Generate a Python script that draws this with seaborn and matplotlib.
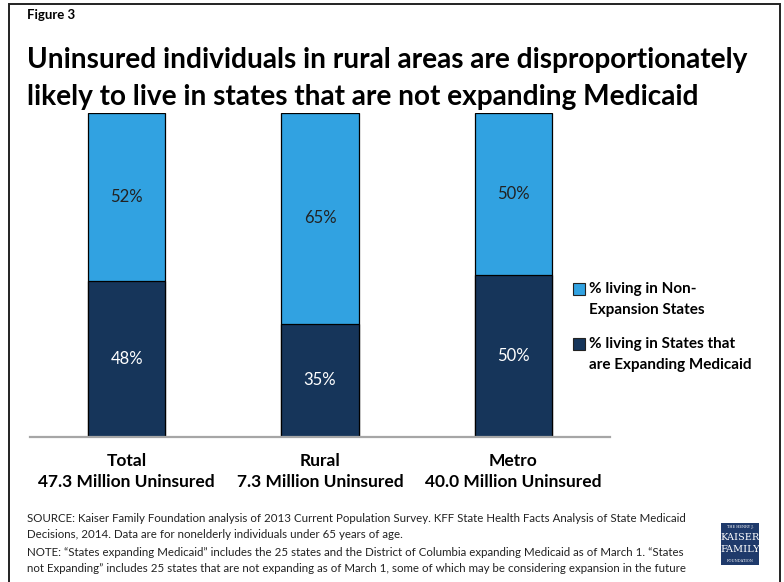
import matplotlib
matplotlib.use("Agg")
import matplotlib.pyplot as plt
import seaborn as sns
import pandas as pd
from matplotlib.patches import Rectangle

sns.set_theme(style="white")
plt.rcParams['font.family'] = ['Lato', 'DejaVu Sans']

# Data
categories = ["Total", "Rural", "Metro"]
totals = ["47.3 Million Uninsured", "7.3 Million Uninsured", "40.0 Million Uninsured"]
expanding = [48, 35, 50]
non_expanding = [52, 65, 50]
series_names = ["% living in Non-\nExpansion States", "% living in States that\nare Expanding Medicaid"]

light_blue = "#31A2E1"
navy = "#16355A"

df = pd.DataFrame({"category": categories, "expanding": expanding,
                   "non_expanding": non_expanding})
df["stack_top"] = df["expanding"] + df["non_expanding"]

fig = plt.figure(figsize=(7.84, 5.82), dpi=100)
W, H = 784, 582

# Outer frame
fig.patches.append(Rectangle((9 / W, -0.01), 771 / W, 1 - 4 / H + 0.01,
                             transform=fig.transFigure, fill=False,
                             edgecolor="#222222", linewidth=1.4))

ax = fig.add_axes([30 / W, (H - 437) / H, 580 / W, 324 / H])

# Stacked bars: full stack in light blue, expanding share drawn over it
sns.barplot(data=df, x="category", y="stack_top", color=light_blue, width=0.4,
            edgecolor="black", linewidth=0.9, saturation=1, ax=ax)
sns.barplot(data=df, x="category", y="expanding", color=navy, width=0.4,
            edgecolor="black", linewidth=0.9, saturation=1, ax=ax)

ax.set_xlim(-0.5, 2.5)
ax.set_ylim(0, 100)
ax.set_xlabel("")
ax.set_ylabel("")
ax.set_yticks([])
ax.set_xticks([])
for s in ["top", "right", "left"]:
    ax.spines[s].set_visible(False)
ax.spines["bottom"].set_color("#A6A6A6")
ax.spines["bottom"].set_linewidth(1.6)

# Value labels
for i, (e, n) in enumerate(zip(expanding, non_expanding)):
    ax.text(i, e / 2, f"{e}%", ha="center", va="center", color="white", fontsize=12)
    ax.text(i, e + n / 2, f"{n}%", ha="center", va="center", color="#222222", fontsize=12)

# Category labels under the axis
for i, (c, t) in enumerate(zip(categories, totals)):
    ax.text(i, -7.4, c, ha="center", va="center", fontsize=12.5, fontweight="bold",
            color="black", clip_on=False)
    ax.text(i, -13.8, t, ha="center", va="center", fontsize=12.5, fontweight="bold",
            color="black", clip_on=False)

# Legend
legend_items = [(light_blue, series_names[0], 289), (navy, series_names[1], 344)]
for color, label, y in legend_items:
    fig.patches.append(Rectangle((573 / W, (H - y - 6) / H), 12 / W, 12 / H,
                                 transform=fig.transFigure, facecolor=color,
                                 edgecolor="#222222", linewidth=0.8))
    fig.text(589 / W, (H - y + 7) / H, label, ha="left", va="top", fontsize=11,
             fontweight="bold", color="black", linespacing=1.62)

# Titles
fig.text(27 / W, (H - 15) / H, "Figure 3", ha="left", va="center", fontsize=9.5,
         fontweight="bold", color="black")
fig.text(27 / W, (H - 60) / H, "Uninsured individuals in rural areas are disproportionately",
         ha="left", va="center", fontsize=20.2, fontweight="bold", color="black")
fig.text(27 / W, (H - 97) / H, "likely to live in states that are not expanding Medicaid",
         ha="left", va="center", fontsize=20.2, fontweight="bold", color="black")

# Source and notes
notes = [
    "SOURCE: Kaiser Family Foundation analysis of 2013 Current Population Survey. KFF State Health Facts Analysis of State Medicaid",
    "Decisions, 2014. Data are for nonelderly individuals under 65 years of age.",
    "NOTE: \u201cStates expanding Medicaid\u201d includes the 25 states and the District of Columbia expanding Medicaid as of March 1. \u201cStates",
    "not Expanding\u201d includes 25 states that are not expanding as of March 1, some of which may be considering expansion in the future",
]
for k, line in enumerate(notes):
    fig.text(27 / W, (H - (518 + 17 * k)) / H, line, ha="left", va="center",
             fontsize=8.3, color="#222222")

# Foundation logo block
fig.patches.append(Rectangle((721 / W, (H - 565) / H), 38 / W, 42 / H,
                             transform=fig.transFigure, facecolor="#1F3A6B",
                             edgecolor="none"))
fig.text(740 / W, (H - 527) / H, "THE HENRY J.", ha="center", va="center",
         fontsize=2.6, color="white", family="DejaVu Serif")
fig.text(740 / W, (H - 538) / H, "KAISER", ha="center", va="center",
         fontsize=7, color="white", family="DejaVu Serif")
fig.text(740 / W, (H - 550) / H, "FAMILY", ha="center", va="center",
         fontsize=7, color="white", family="DejaVu Serif")
fig.text(740 / W, (H - 561) / H, "FOUNDATION", ha="center", va="center",
         fontsize=2.6, color="white", family="DejaVu Serif")

fig.savefig("out.png", dpi=100)
